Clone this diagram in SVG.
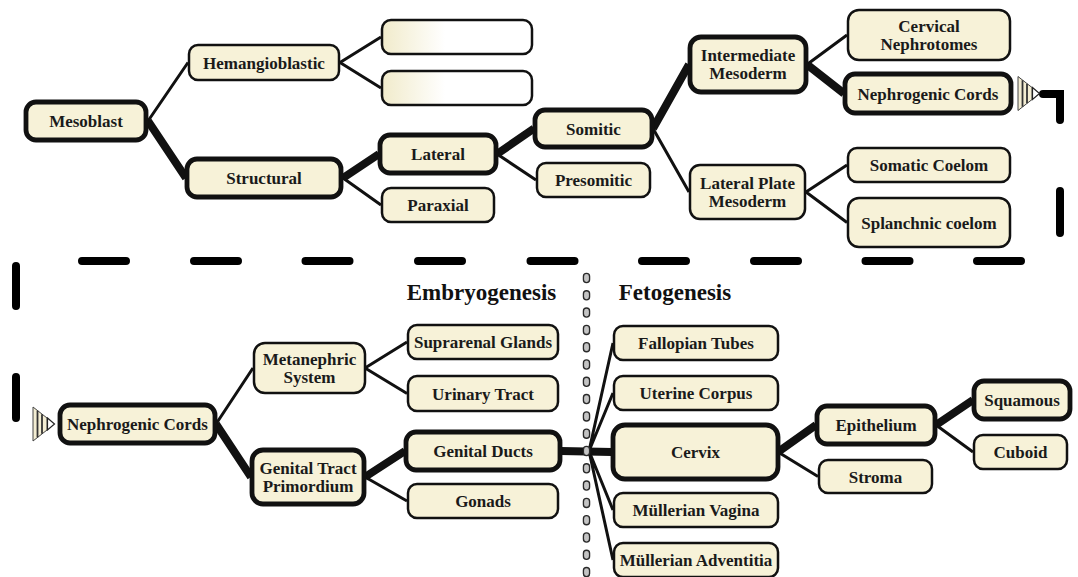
<svg xmlns="http://www.w3.org/2000/svg" width="1078" height="577" viewBox="0 0 1078 577">
<style>
.n{fill:#F7F2D8;stroke:#111;stroke-width:2.5}
.nt{fill:#F7F2D8;stroke:#111;stroke-width:4.8}
.ne{fill:url(#fade);stroke:#111;stroke-width:2.5}
.t{font-family:"Liberation Serif","Times New Roman",serif;font-weight:bold;font-size:17px;fill:#1a1a1a;text-anchor:middle}
.h{font-family:"Liberation Serif","Times New Roman",serif;font-weight:bold;font-size:23px;fill:#111;text-anchor:middle}
.l{fill:none;stroke:#111;stroke-width:3}
.lt{fill:none;stroke:#111;stroke-width:8}
.d{fill:none;stroke:#000;stroke-width:8;stroke-linecap:round}
</style>
<defs>
<linearGradient id="fade" x1="0" y1="0" x2="1" y2="0">
<stop offset="0" stop-color="#F1EBCB"/>
<stop offset="0.42" stop-color="#FFFFFF"/>
</linearGradient>
<g id="mk">
<polygon points="0,-17 14,-6 14,6 0,17" fill="#F3EDD2" stroke="#444" stroke-width="1"/>
<line x1="4.5" y1="-13.3" x2="4.5" y2="13.3" stroke="#333" stroke-width="1.8"/>
<line x1="9" y1="-9.8" x2="9" y2="9.8" stroke="#333" stroke-width="1.8"/>
<polygon points="14.5,-6 21.5,0 14.5,6" fill="#fff" stroke="#222" stroke-width="1.2"/>
</g>
</defs>
<rect width="1078" height="577" fill="#fff"/>

<g id="connectors">
<path class="l" d="M148,121 L188,62.5 M340,62.5 L381,37 M340,62.5 L381,88 M343,178 L381,205 M497,154 L536,180 M653,128.5 L689,192 M807,64.5 L847,35 M806,192 L847,165 M806,192 L847,222.5"/>
<path class="lt" d="M148,121 L186,178 M343,178 L379,154 M497,154 L534,128.5 M653,128.5 L689,64.5 M807,64.5 L844,93.5"/>
<path class="l" d="M216,424 L253,368 M365,368 L407,342 M365,368 L407,393.5 M365,477 L407,501 M589,451 L613,343 M589,451 L613,393 M589,451 L613,510 M589,451 L613,560 M778,452 L818,476.5 M936,425 L973,452"/>
<path class="lt" d="M216,424 L251,477 M365,477 L405,451 M561,451 L612,452 M778,452 L816,425 M936,425 L973,400"/>
<g id="link-nephrogenic">
<path class="d" d="M1043,94 H1060 V120 M1060,191 V233 M1021,261 H977 M909.5,261 H865.5 M798,261 H754 M686,261 H642 M574.5,261 H530.5 M462,261 H418 M349.5,261 H305.5 M238,261 H194 M126,261 H82 M16,266 V306 M16,377 V418"/>
<use href="#mk" x="1018" y="93.5"/>
<use href="#mk" x="33" y="424"/>
</g>
</g>

<g id="divider">
<line x1="586.5" y1="276.5" x2="586.5" y2="580" stroke="#2a2a2a" stroke-width="7.5" stroke-linecap="round" stroke-dasharray="3 14.3"/>
<line x1="586.5" y1="276.5" x2="586.5" y2="580" stroke="#C4C4C4" stroke-width="4.8" stroke-linecap="round" stroke-dasharray="3 14.3"/>
</g>

<g id="mesoblast"><rect class="nt" x="26" y="102" width="120" height="38" rx="10"/><text class="t" x="86" y="127">Mesoblast</text></g>
<g id="hemangioblastic"><rect class="n" x="189" y="45" width="150" height="35" rx="9"/><text class="t" x="264" y="68.5">Hemangioblastic</text></g>
<g id="structural"><rect class="nt" x="187" y="159" width="154" height="38" rx="10"/><text class="t" x="264" y="184">Structural</text></g>
<g id="empty1"><rect class="ne" x="382" y="20" width="150" height="34" rx="9"/></g>
<g id="empty2"><rect class="ne" x="382" y="71" width="150" height="34" rx="9"/></g>
<g id="lateral"><rect class="nt" x="380" y="135" width="116" height="38" rx="10"/><text class="t" x="438" y="160">Lateral</text></g>
<g id="paraxial"><rect class="n" x="382" y="188" width="112" height="34" rx="9"/><text class="t" x="438" y="211">Paraxial</text></g>
<g id="somitic"><rect class="nt" x="535" y="110" width="117" height="37" rx="10"/><text class="t" x="593.5" y="134.5">Somitic</text></g>
<g id="presomitic"><rect class="n" x="537" y="163" width="113" height="34" rx="9"/><text class="t" x="593.5" y="186">Presomitic</text></g>
<g id="intermediate-mesoderm"><rect class="nt" x="690" y="37" width="116" height="55" rx="11"/><text class="t" x="748" y="61">Intermediate</text><text class="t" x="748" y="79">Mesoderm</text></g>
<g id="lateral-plate-mesoderm"><rect class="n" x="690" y="165" width="115" height="54" rx="10"/><text class="t" x="747.5" y="189">Lateral Plate</text><text class="t" x="747.5" y="207">Mesoderm</text></g>
<g id="cervical-nephrotomes"><rect class="n" x="848" y="10" width="162" height="50" rx="11"/><text class="t" x="929" y="32">Cervical</text><text class="t" x="929" y="50">Nephrotomes</text></g>
<g id="nephrogenic-cords-top"><rect class="nt" x="845" y="74" width="166" height="39" rx="10"/><text class="t" x="928" y="99.5">Nephrogenic Cords</text></g>
<g id="somatic-coelom"><rect class="n" x="848" y="148" width="162" height="34" rx="9"/><text class="t" x="929" y="171">Somatic Coelom</text></g>
<g id="splanchnic-coelom"><rect class="n" x="848" y="198" width="162" height="49" rx="11"/><text class="t" x="929" y="228.5">Splanchnic coelom</text></g>

<text class="h" x="481.5" y="300">Embryogenesis</text>
<text class="h" x="675" y="300">Fetogenesis</text>

<g id="nephrogenic-cords-bottom"><rect class="nt" x="60" y="405" width="155" height="38" rx="10"/><text class="t" x="137.5" y="430">Nephrogenic Cords</text></g>
<g id="metanephric-system"><rect class="n" x="254" y="343" width="111" height="50" rx="11"/><text class="t" x="309.5" y="365">Metanephric</text><text class="t" x="309.5" y="383">System</text></g>
<g id="genital-tract-primordium"><rect class="nt" x="252" y="450" width="112" height="54" rx="11"/><text class="t" x="308" y="474">Genital Tract</text><text class="t" x="308" y="492">Primordium</text></g>
<g id="suprarenal-glands"><rect class="n" x="408" y="325" width="150" height="34" rx="9"/><text class="t" x="483" y="348">Suprarenal Glands</text></g>
<g id="urinary-tract"><rect class="n" x="408" y="376" width="150" height="35" rx="9"/><text class="t" x="483" y="399.5">Urinary Tract</text></g>
<g id="genital-ducts"><rect class="nt" x="406" y="432" width="154" height="38" rx="10"/><text class="t" x="483" y="457">Genital Ducts</text></g>
<g id="gonads"><rect class="n" x="408" y="484" width="150" height="34" rx="9"/><text class="t" x="483" y="507">Gonads</text></g>
<g id="fallopian-tubes"><rect class="n" x="614" y="326" width="164" height="34" rx="9"/><text class="t" x="696" y="349">Fallopian Tubes</text></g>
<g id="uterine-corpus"><rect class="n" x="614" y="376" width="164" height="34" rx="9"/><text class="t" x="696" y="399">Uterine Corpus</text></g>
<g id="cervix"><rect class="nt" x="613" y="425" width="165" height="54" rx="12"/><text class="t" x="695.5" y="458">Cervix</text></g>
<g id="mullerian-vagina"><rect class="n" x="614" y="493" width="164" height="34" rx="9"/><text class="t" x="696" y="516">Müllerian Vagina</text></g>
<g id="mullerian-adventitia"><rect class="n" x="614" y="543" width="164" height="34" rx="9"/><text class="t" x="696" y="566">Müllerian Adventitia</text></g>
<g id="epithelium"><rect class="nt" x="817" y="406" width="118" height="38" rx="10"/><text class="t" x="876" y="431">Epithelium</text></g>
<g id="stroma"><rect class="n" x="819" y="460" width="113" height="33" rx="9"/><text class="t" x="875.5" y="482.5">Stroma</text></g>
<g id="squamous"><rect class="nt" x="974" y="381" width="96" height="38" rx="10"/><text class="t" x="1022" y="406">Squamous</text></g>
<g id="cuboid"><rect class="n" x="974" y="435" width="93" height="34" rx="9"/><text class="t" x="1020.5" y="458">Cuboid</text></g>
</svg>
